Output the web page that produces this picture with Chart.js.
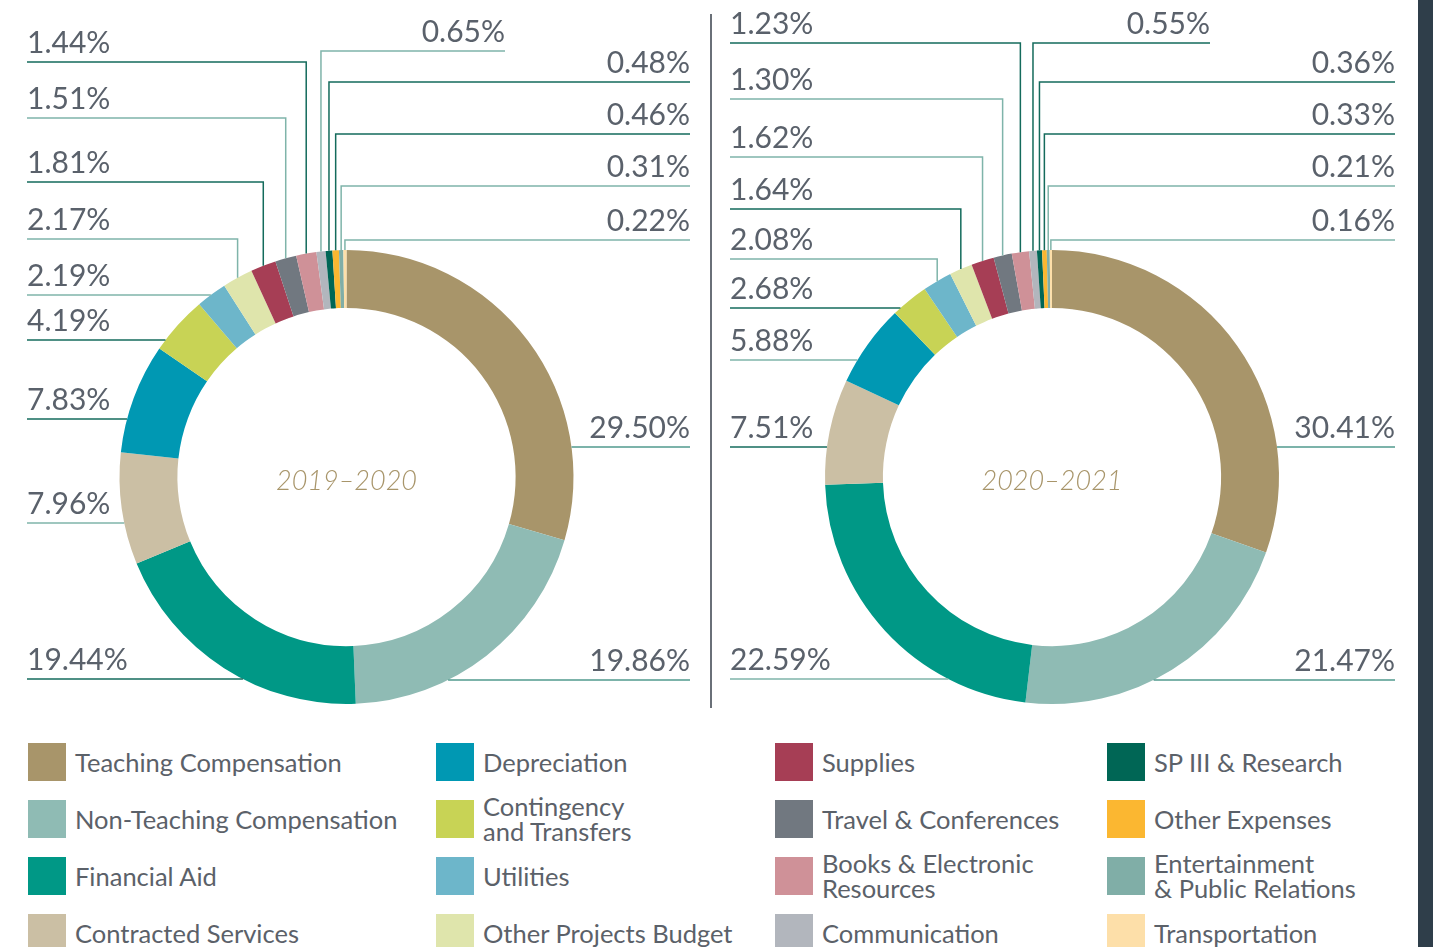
<!DOCTYPE html>
<html lang="en">
<head>
    <meta charset="UTF-8">
    <title>Expenditure Breakdown 2019–2021</title>
    <script src="https://cdn.jsdelivr.net/npm/chart.js"></script>
    <style>
        body { margin: 0; background: #fff; font-family: Lato, "Open Sans", sans-serif; }
        #page { position: relative; width: 1433px; height: 947px; overflow: hidden; background: #fff; }
        #page canvas { position: absolute; left: 0; top: 0; }
        .divider { position: absolute; left: 710px; top: 14px; width: 2px; height: 694px; background: #6a7078; }
        .sidebar { position: absolute; left: 1418px; top: 0; width: 15px; height: 947px; background: #2f3e4a; }
        .legend-item { position: absolute; display: flex; align-items: center; height: 38px; }
        .legend-item .swatch { width: 38px; height: 38px; flex: none; }
        .legend-item .text { margin-left: 9px; font-size: 25.5px; line-height: 25px; color: #5b6169; font-weight: 400; white-space: nowrap; }
    </style>
</head>
<body>
    <div id="page">
        <canvas id="chart2019" width="1418" height="720"></canvas>
        <canvas id="chart2020" width="1418" height="720"></canvas>
        <div class="divider"></div>
        <div id="legend"></div>
        <div class="sidebar"></div>
    </div>

    <script>
        // Expense categories, in drawing order (clockwise from 12 o'clock)
        const categories = [
            'Teaching Compensation', 'Non-Teaching Compensation', 'Financial Aid', 'Contracted Services',
            'Depreciation', 'Contingency\nand Transfers', 'Utilities', 'Other Projects Budget',
            'Supplies', 'Travel & Conferences', 'Books & Electronic\nResources', 'Communication',
            'SP III & Research', 'Other Expenses', 'Entertainment\n& Public Relations', 'Transportation'
        ];
        const share2019 = [29.50, 19.86, 19.44, 7.96, 7.83, 4.19, 2.19, 2.17, 1.81, 1.51, 1.44, 0.65, 0.48, 0.46, 0.31, 0.22];
        const share2020 = [30.41, 21.47, 22.59, 7.51, 5.88, 2.68, 2.08, 1.64, 1.62, 1.30, 1.23, 0.55, 0.36, 0.33, 0.21, 0.16];
        const colors = [
            '#a8956a', '#8fbbb4', '#009886', '#cbbfa4',
            '#0098b3', '#c8d355', '#6db6ca', '#dfe5ac',
            '#a63e55', '#717880', '#cf9198', '#b2b6bd',
            '#006655', '#fbb731', '#80aea7', '#fddfa9'
        ];

        // Label rows (page y of the underline) and which side each label sits on
        const sides = ['R', 'R', 'L', 'L', 'L', 'L', 'L', 'L', 'L', 'L', 'L', 'R', 'R', 'R', 'R', 'R'];
        const rows2019 = [447, 680, 679, 523, 419, 340, 295, 239, 182, 118, 62, 51, 82, 134, 186, 240];
        const rows2020 = [447, 680, 679, 447, 360, 308, 259, 209, 157, 99, 43, 43, 82, 134, 186, 240];

        // Leader line tones
        const DARK = '#146b5c', LIGHT = '#7fb4aa', MID = '#519a8e';
        const tones2019 = [MID, MID, DARK, LIGHT, DARK, DARK, LIGHT, LIGHT, DARK, LIGHT, DARK, LIGHT, DARK, DARK, LIGHT, LIGHT];
        const tones2020 = [MID, MID, LIGHT, DARK, LIGHT, DARK, LIGHT, DARK, LIGHT, LIGHT, DARK, DARK, DARK, DARK, LIGHT, LIGHT];

        const CANVAS_W = 1418, CANVAS_H = 720, RADIUS = 227;

        // Draws the percentage labels with elbow leader lines, plus the year in the hole
        const leaderPlugin = {
            id: 'leaders',
            afterDatasetsDraw(chart, args, opts) {
                const { ctx } = chart;
                const meta = chart.getDatasetMeta(0);
                const values = chart.data.datasets[0].data;
                ctx.save();
                ctx.lineWidth = 1.5;
                ctx.font = '400 30px Lato';
                ctx.fillStyle = '#5a616b';
                ctx.textBaseline = 'alphabetic';

                meta.data.forEach((arc, i) => {
                    const { x: cx, y: cy, startAngle, endAngle, outerRadius: r } =
                        arc.getProps(['x', 'y', 'startAngle', 'endAngle', 'outerRadius'], true);
                    const mid = (startAngle + endAngle) / 2;
                    const rowY = opts.rows[i];
                    const side = opts.sides[i];
                    const edge = opts.edges[i] !== undefined ? opts.edges[i] : (side === 'L' ? opts.left : opts.right);

                    // try a straight horizontal line into the arc first
                    let endX = null, endY = rowY;
                    const dy = rowY - cy;
                    if (Math.abs(dy) < r) {
                        const dx = Math.sqrt(r * r - dy * dy) * (Math.cos(mid) < 0 ? -1 : 1);
                        let a = Math.atan2(dy, dx);
                        while (a < startAngle) a += 2 * Math.PI;
                        while (a >= startAngle + 2 * Math.PI) a -= 2 * Math.PI;
                        if (a <= endAngle) endX = cx + dx;
                    }

                    ctx.strokeStyle = opts.tones[i];
                    ctx.beginPath();
                    ctx.moveTo(edge, rowY);
                    if (endX !== null) {
                        ctx.lineTo(endX, rowY);
                    } else {
                        // elbow: across to the slice middle, then down onto the rim
                        endX = cx + r * Math.cos(mid);
                        endY = cy + r * Math.sin(mid);
                        ctx.lineTo(endX, rowY);
                        ctx.lineTo(endX, endY);
                    }
                    ctx.stroke();

                    ctx.textAlign = side === 'L' ? 'left' : 'right';
                    ctx.fillText(values[i].toFixed(2) + '%', edge, rowY - 9);
                });

                const c = meta.data[0];
                ctx.font = 'italic 300 27px Lato';
                ctx.fillStyle = '#a8956a';
                ctx.textAlign = 'center';
                ctx.textBaseline = 'middle';
                ctx.fillText(opts.title, c.x, c.y + 4);
                ctx.restore();
            }
        };

        function makeDonut(id, values, center, labelOpts) {
            const [cx, cy] = center;
            return new Chart(document.getElementById(id), {
                type: 'doughnut',
                data: {
                    labels: categories,
                    datasets: [{
                        data: values,
                        backgroundColor: colors,
                        borderWidth: 0
                    }]
                },
                options: {
                    responsive: false,
                    animation: false,
                    cutout: '74.5%',
                    layout: {
                        padding: {
                            left: cx - RADIUS,
                            right: CANVAS_W - (cx + RADIUS),
                            top: cy - RADIUS,
                            bottom: CANVAS_H - (cy + RADIUS)
                        }
                    },
                    plugins: {
                        legend: { display: false },
                        tooltip: { enabled: false },
                        leaders: labelOpts
                    }
                },
                plugins: [leaderPlugin]
            });
        }

        makeDonut('chart2019', share2019, [346.5, 477], {
            title: '2019–2020', rows: rows2019, sides: sides, tones: tones2019,
            left: 27, right: 690, edges: { 11: 505 }
        });
        makeDonut('chart2020', share2020, [1052, 477], {
            title: '2020–2021', rows: rows2020, sides: sides, tones: tones2020,
            left: 730, right: 1395, edges: { 11: 1210 }
        });

        // Legend: four columns of four, same order as the slices
        const legendCols = [28, 436, 775, 1107];
        const legendRows = [743, 800, 857, 914];
        const legend = document.getElementById('legend');
        categories.forEach((name, i) => {
            const item = document.createElement('div');
            item.className = 'legend-item';
            item.style.left = legendCols[Math.floor(i / 4)] + 'px';
            item.style.top = legendRows[i % 4] + 'px';
            item.innerHTML = `<div class="swatch" style="background:${colors[i]}"></div>` +
                `<div class="text">${name.replace(/&/g, '&amp;').replace('\n', '<br>')}</div>`;
            legend.appendChild(item);
        });
    </script>
</body>
</html>
